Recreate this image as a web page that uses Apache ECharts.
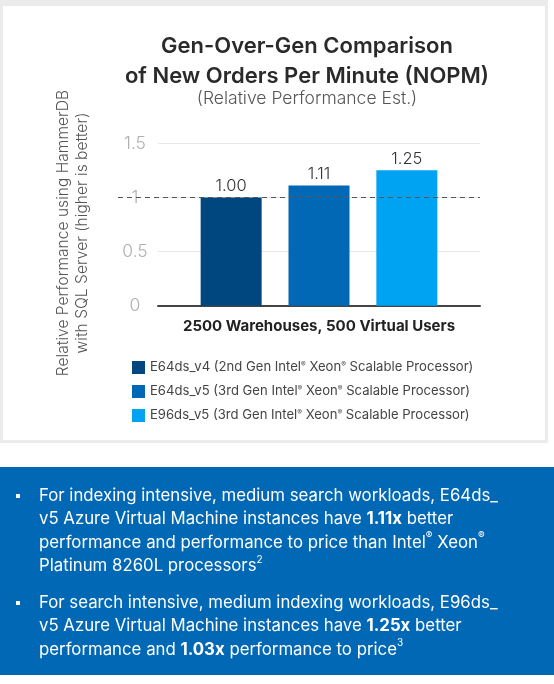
<!DOCTYPE html>
<html>
<head>
<meta charset="utf-8">
<style>
html,body{margin:0;padding:0;background:#fff;}
#chart{width:554px;height:684px;}
</style>
<script src="https://cdn.jsdelivr.net/npm/echarts@6/dist/echarts.min.js"></script>
</head>
<body>
<div id="chart"></div>
<script>
const categories = ['2500 Warehouses, 500 Virtual Users'];
const seriesNames = [
  'E64ds_v4 (2nd Gen Intel® Xeon® Scalable Processor)',
  'E64ds_v5 (3rd Gen Intel® Xeon® Scalable Processor)',
  'E96ds_v5 (3rd Gen Intel® Xeon® Scalable Processor)'
];
const seriesValues = [1.00, 1.11, 1.25];
const seriesColors = ['#00477F', '#0068B5', '#00A3F2'];
const baselineValue = 1;
const yMin = 0, yMax = 1.5, yInterval = 0.5;

const titleLines = ['Gen-Over-Gen Comparison', 'of New Orders Per Minute (NOPM)'];
const subTitle = '(Relative Performance Est.)';
const yAxisNameLines = ['Relative Performance using HammerDB', 'with SQL Server (higher is better)'];
const bullet1Lines = [
  'For indexing intensive, medium search workloads, E64ds_',
  'v5 Azure Virtual Machine instances have {b|1.11x} better',
  'performance and performance to price than Intel{s|®} Xeon{s|®}',
  'Platinum 8260L processors{s|2}'
];
const bullet2Lines = [
  'For search intensive, medium indexing workloads, E96ds_',
  'v5 Azure Virtual Machine instances have {b|1.25x} better',
  'performance and {b|1.03x} performance to price{s|3}'
];

const FONT = 'Inter, "Noto Sans", sans-serif';
const chart = echarts.init(document.getElementById('chart'), null, {renderer: 'canvas'});

const gridPos = {left: 158, right: 74, top: 143.3, bottom: 378.3};

const barSeries = seriesNames.map((name, i) => ({
  name: name,
  type: 'bar',
  xAxisIndex: 0,
  yAxisIndex: 0,
  barWidth: 61,
  barGap: '44%',
  itemStyle: {color: seriesColors[i]},
  label: {
    show: true, position: 'top', distance: 3,
    formatter: p => p.value.toFixed(2),
    fontFamily: FONT, fontSize: 16.5, color: '#333', fontWeight: 300
  },
  data: [seriesValues[i]]
}));

const richBullet = {
  b: {fontFamily: FONT, fontSize: 16.8, fontWeight: 'bold', fill: '#fff', color: '#fff'},
  s: {fontFamily: FONT, fontSize: 10, fill: '#fff', color: '#fff', verticalAlign: 'top', lineHeight: 23.5, padding: [0,0,7,0]}
};

chart.setOption({
  animation: false,
  backgroundColor: '#fff',
  title: {
    text: titleLines.join('\n'),
    subtext: subTitle,
    left: 302, top: 26, textAlign: 'center',
    itemGap: -2,
    textStyle: {fontFamily: FONT, fontSize: 22, fontWeight: 600, color: '#2a2a2a', lineHeight: 30},
    subtextStyle: {fontFamily: FONT, fontSize: 17.5, fontWeight: 300, color: '#555', lineHeight: 20}
  },
  legend: {
    orient: 'vertical', left: 127, top: 356,
    itemWidth: 13, itemHeight: 13, itemGap: 11,
    icon: 'rect',
    data: seriesNames,
    formatter: n => n.replace(/®/g, '{r|®}'),
    textStyle: {
      fontFamily: FONT, fontSize: 13.1, color: '#444',
      rich: {r: {fontFamily: FONT, fontSize: 7, color: '#444', verticalAlign: 'top', padding: [0,0,6,0]}}
    }
  },
  grid: [
    Object.assign({}, gridPos),
    Object.assign({}, gridPos, {left: 118})
  ],
  xAxis: [
    {
      type: 'category', gridIndex: 0, data: categories,
      axisTick: {show: false},
      axisLine: {show: true, lineStyle: {color: '#444', width: 2}},
      axisLabel: {fontFamily: FONT, fontSize: 15, fontWeight: 'bold', color: '#222', margin: 13}
    },
    {type: 'value', gridIndex: 1, min: 0, max: 1, show: false}
  ],
  yAxis: [
    {
      type: 'value', gridIndex: 0, min: yMin, max: yMax, interval: yInterval,
      axisLine: {show: false}, axisTick: {show: false},
      splitLine: {lineStyle: {color: '#e6e6e6', width: 1}},
      axisLabel: {
        fontFamily: FONT, fontSize: 17.5, fontWeight: 300, color: '#b0b0b0', align: 'center', margin: 23,
        formatter: v => String(v)
      }
    },
    {type: 'value', gridIndex: 1, min: yMin, max: yMax, interval: yInterval, show: false}
  ],
  series: barSeries.concat([{
    type: 'line', xAxisIndex: 1, yAxisIndex: 1, data: [],
    markLine: {
      silent: true, symbol: 'none', label: {show: false},
      lineStyle: {color: '#555', type: [5, 4], width: 1},
      data: [{yAxis: baselineValue}]
    }
  }]),
  graphic: [
    {type: 'rect', z: -10, shape: {x: 0, y: 0, width: 548, height: 443}, style: {fill: '#ebebeb'}},
    {type: 'rect', z: -9, shape: {x: 3, y: 6, width: 542, height: 434}, style: {fill: '#fff'}},
    {
      type: 'text', x: 72.5, y: 233, rotation: Math.PI / 2,
      style: {
        text: yAxisNameLines.join('\n'), fill: '#555', font: '300 15.6px ' + FONT,
        align: 'center', verticalAlign: 'middle', lineHeight: 19
      }
    },
    {type: 'rect', z: -10, shape: {x: 0, y: 467, width: 554, height: 208}, style: {fill: '#0068B5'}},
    {type: 'rect', shape: {x: 16, y: 494, width: 4, height: 4}, style: {fill: '#fff'}},
    {type: 'rect', shape: {x: 16, y: 601, width: 4, height: 4}, style: {fill: '#fff'}},
    {
      type: 'text', x: 39, y: 484,
      style: {
        text: bullet1Lines.join('\n'), fill: '#fff', fontFamily: FONT, fontSize: 16.8,
        lineHeight: 23.5, rich: richBullet
      }
    },
    {
      type: 'text', x: 39, y: 591,
      style: {
        text: bullet2Lines.join('\n'), fill: '#fff', fontFamily: FONT, fontSize: 16.8,
        lineHeight: 23.5, rich: richBullet
      }
    }
  ]
});
</script>
</body>
</html>
